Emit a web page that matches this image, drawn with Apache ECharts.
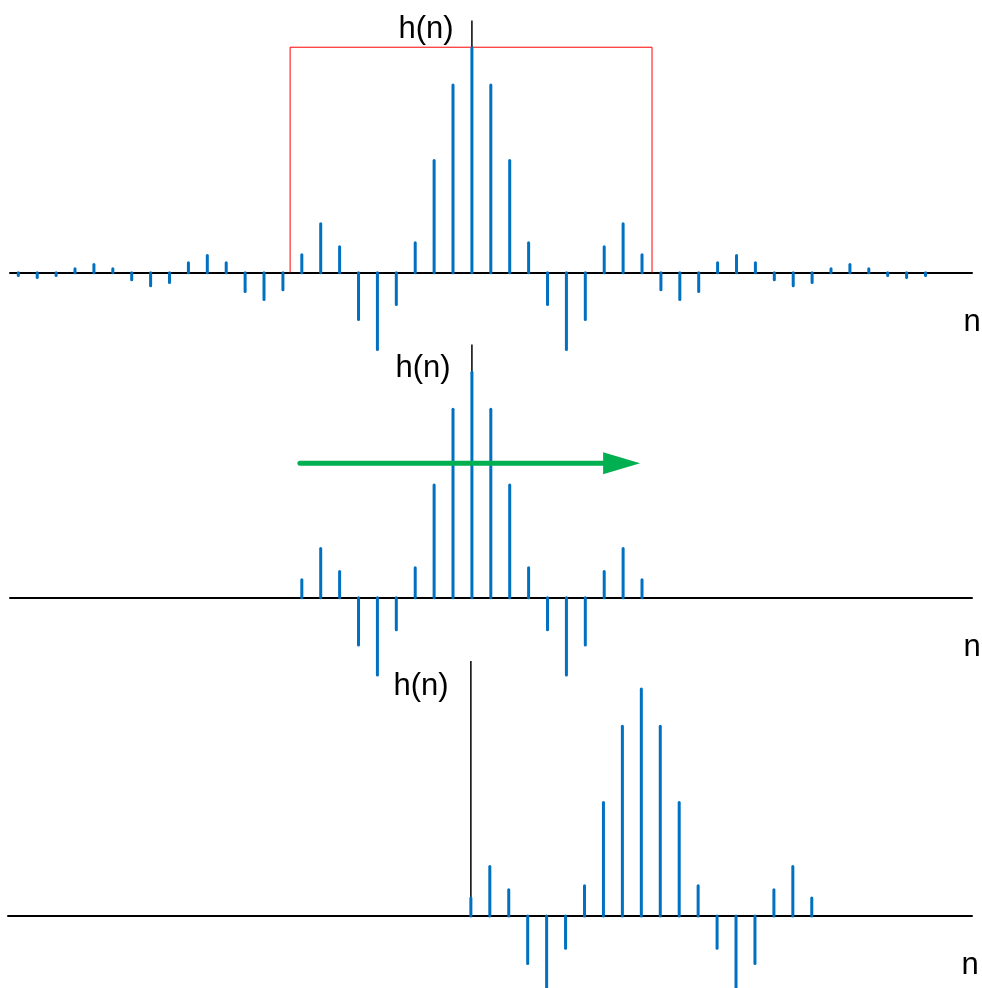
<!DOCTYPE html>
<html>
<head>
<meta charset="utf-8">
<script src="https://cdn.jsdelivr.net/npm/echarts@6/dist/echarts.min.js"></script>
<style>
html,body{margin:0;padding:0;background:#fff;}
#chart{width:982px;height:988px;}
</style>
</head>
<body>
<div id="chart"></div>
<script>
// ---- data ----
// full (windowless) impulse response, n = -24 .. 24
const N_FULL = [-24,-23,-22,-21,-20,-19,-18,-17,-16,-15,-14,-13,-12,-11,-10,-9,-8,-7,-6,-5,-4,-3,-2,-1,
  0,1,2,3,4,5,6,7,8,9,10,11,12,13,14,15,16,17,18,19,20,21,22,23,24];
const H_FULL = [
  -0.013, -0.022, -0.013, 0.018, 0.036, 0.018, -0.031, -0.058, -0.044,
  0.044, 0.076, 0.044, -0.084, -0.12, -0.076, 0.08, 0.218, 0.116,
  -0.209, -0.342, -0.142, 0.133, 0.5, 0.836,
  1.0,
  0.836, 0.5, 0.133, -0.142, -0.342, -0.209, 0.116, 0.218, 0.08,
  -0.076, -0.12, -0.084, 0.044, 0.076, 0.044, -0.031, -0.058, -0.044,
  0.018, 0.036, 0.018, -0.013, -0.022, -0.013
];
// truncated response, n = -9 .. 9
const N_TRUNC = [-9,-8,-7,-6,-5,-4,-3,-2,-1,0,1,2,3,4,5,6,7,8,9];
const H_TRUNC = [0.08, 0.218, 0.116, -0.209, -0.342, -0.142, 0.133, 0.5, 0.836, 1.0,
                 0.836, 0.5, 0.133, -0.142, -0.342, -0.209, 0.116, 0.218, 0.08];
// shifted (causal) response, n = 0 .. 18
const N_SHIFT = [0,1,2,3,4,5,6,7,8,9,10,11,12,13,14,15,16,17,18];
const H_SHIFT = [0.08, 0.218, 0.116, -0.209, -0.342, -0.142, 0.133, 0.5, 0.836, 1.0,
                 0.836, 0.5, 0.133, -0.142, -0.342, -0.209, 0.116, 0.218, 0.08];
// rectangular window outline (top panel)
const WINDOW_BOX = [[-9.62, 0], [-9.62, 1.004], [9.53, 1.004], [9.53, 0]];
// shift arrow (middle panel)
const ARROW_FROM = [-9.1, 0.597];
const ARROW_TO = [8.9, 0.597];
const Y_TOP = 1.123;

const X_MIN = -24.44, X_MAX = 26.46;
const Y_MINS = [-0.4, -0.4, -0.31];
const STEM_COLOR = '#0070C0';

function pairs(xs, ys){ return xs.map((x,i)=>[x, ys[i]]); }

function stemSeries(idx, xs, ys){
  return {
    type: 'custom', xAxisIndex: idx, yAxisIndex: idx, z: 5,
    data: pairs(xs, ys),
    renderItem: function(params, api){
      const p0 = api.coord([api.value(0), 0]);
      const p1 = api.coord([api.value(0), api.value(1)]);
      return {type:'line', shape:{x1:p0[0], y1:p0[1], x2:p1[0], y2:p1[1]},
        style:{stroke: STEM_COLOR, lineWidth: 3, lineCap:'round'}};
    }
  };
}
function vAxisSeries(idx){
  return {
    type:'line', xAxisIndex: idx, yAxisIndex: idx, z: 3, symbol:'none',
    data: [[0,0],[0,Y_TOP]], lineStyle:{color:'#000', width:1.5}, silent:true
  };
}

const grids = [
  {left:10, width:962, top:20.5, height:342},
  {left:10, width:962, top:344.5, height:343.5},
  {left:8, width:964, top:661, height:325.5}
];
const xAxes = grids.map((g,i)=>({
  type:'value', gridIndex:i, min:X_MIN, max:X_MAX,
  axisLine:{show:true, onZero:true, lineStyle:{color:'#000', width:2}},
  axisTick:{show:false}, axisLabel:{show:false}, splitLine:{show:false}
}));
const yAxes = grids.map((g,i)=>({
  type:'value', gridIndex:i, min:Y_MINS[i], max:Y_TOP,
  axisLine:{show:false}, axisTick:{show:false}, axisLabel:{show:false}, splitLine:{show:false}
}));

const chart = echarts.init(document.getElementById('chart'), null, {renderer:'canvas'});
const txt = (x,y,s)=>({type:'text', x:x, y:y, style:{text:s, font:'31px "Liberation Sans", Arial, sans-serif', fill:'#000', textAlign:'center', textVerticalAlign:'middle'}});

chart.setOption({
  animation:false,
  backgroundColor:'#fff',
  grid: grids,
  xAxis: xAxes,
  yAxis: yAxes,
  graphic: [
    txt(426, 29, 'h(n)'), txt(972, 322, 'n'),
    txt(423, 368, 'h(n)'), txt(972, 647, 'n'),
    txt(421, 686, 'h(n)'), txt(970, 965, 'n')
  ],
  series: [
    {type:'line', xAxisIndex:0, yAxisIndex:0, z:2, symbol:'none', data: WINDOW_BOX,
     lineStyle:{color:'#FF0000', width:1}, silent:true},
    vAxisSeries(0), vAxisSeries(1), vAxisSeries(2),
    stemSeries(0, N_FULL, H_FULL),
    stemSeries(1, N_TRUNC, H_TRUNC),
    stemSeries(2, N_SHIFT, H_SHIFT),
    {
      type:'custom', xAxisIndex:1, yAxisIndex:1, z:10,
      data:[[ARROW_FROM[0], ARROW_FROM[1], ARROW_TO[0], ARROW_TO[1]]],
      renderItem: function(params, api){
        const a = api.coord([api.value(0), api.value(1)]);
        const b = api.coord([api.value(2), api.value(3)]);
        const headLen = 37, headHalf = 11;
        const bx = b[0] - headLen;
        return {type:'group', children:[
          {type:'line', shape:{x1:a[0], y1:a[1], x2:bx+2, y2:b[1]},
           style:{stroke:'#00B050', lineWidth:5, lineCap:'round'}},
          {type:'polygon', shape:{points:[[bx, b[1]-headHalf],[b[0], b[1]],[bx, b[1]+headHalf]]},
           style:{fill:'#00B050'}}
        ]};
      }
    }
  ]
});
</script>
</body>
</html>
